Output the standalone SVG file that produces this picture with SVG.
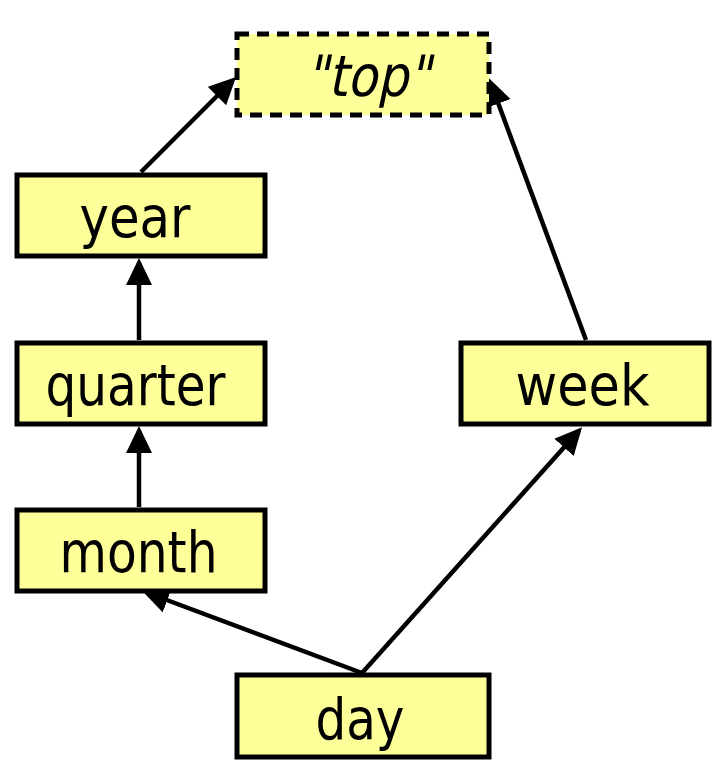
<svg xmlns="http://www.w3.org/2000/svg" width="722" height="775" viewBox="0 0 722 775">
  <style>
    .box { fill: #ffff99; stroke: #000; stroke-width: 5; }
    .dashed { stroke-dasharray: 12 8; }
    .lbl { font-family: "DejaVu Sans Condensed", "DejaVu Sans", sans-serif; font-size: 57px; fill: #000; text-anchor: middle; }
    .edge { stroke: #000; stroke-width: 4.5; fill: none; }
  </style>
  <defs>
    <marker id="arr" markerUnits="userSpaceOnUse" markerWidth="30" markerHeight="28" refX="22" refY="13" orient="auto">
      <path d="M0,0 L27,13 L0,26 Z" fill="#000"/>
    </marker>
  </defs>
  <rect width="722" height="775" fill="#fff"/>
  <g id="connectors">
    <line class="edge" x1="141" y1="172" x2="232.5" y2="80.5" marker-end="url(#arr)"/>
    <line class="edge" x1="586" y1="340" x2="490.7" y2="83" marker-end="url(#arr)"/>
    <line class="edge" x1="139" y1="340" x2="139" y2="263" marker-end="url(#arr)"/>
    <line class="edge" x1="139" y1="507" x2="139" y2="431" marker-end="url(#arr)"/>
    <line class="edge" x1="362" y1="673" x2="146.7" y2="592.5" marker-end="url(#arr)"/>
    <line class="edge" x1="362" y1="673" x2="578.7" y2="431" marker-end="url(#arr)"/>
  </g>
  <g id="node-top">
    <rect class="box dashed" x="237" y="34" width="252" height="81"/>
    <text class="lbl" transform="translate(368,96) skewX(-12)" x="0" y="0" textLength="125" lengthAdjust="spacingAndGlyphs">"top"</text>
  </g>
  <g id="node-year">
    <rect class="box" x="17" y="175" width="248" height="81"/>
    <text class="lbl" x="135" y="237" textLength="111" lengthAdjust="spacingAndGlyphs">year</text>
  </g>
  <g id="node-quarter">
    <rect class="box" x="17" y="343" width="248" height="81"/>
    <text class="lbl" x="135.5" y="405" textLength="180" lengthAdjust="spacingAndGlyphs">quarter</text>
  </g>
  <g id="node-week">
    <rect class="box" x="461" y="343" width="248" height="81"/>
    <text class="lbl" x="582.5" y="405" textLength="134" lengthAdjust="spacingAndGlyphs">week</text>
  </g>
  <g id="node-month">
    <rect class="box" x="17" y="510" width="248" height="81"/>
    <text class="lbl" x="138.5" y="572" textLength="158" lengthAdjust="spacingAndGlyphs">month</text>
  </g>
  <g id="node-day">
    <rect class="box" x="237" y="675" width="252" height="82"/>
    <text class="lbl" x="360" y="739" textLength="89" lengthAdjust="spacingAndGlyphs">day</text>
  </g>
</svg>
